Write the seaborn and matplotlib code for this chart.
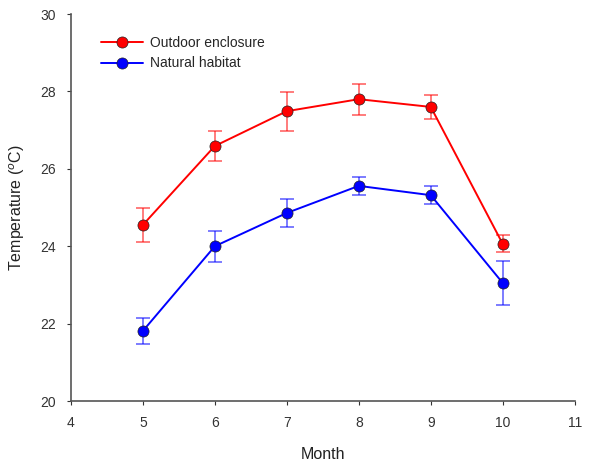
import pandas as pd
import seaborn as sns
import matplotlib.pyplot as plt

months = [5, 6, 7, 8, 9, 10]
outdoor = [24.55, 26.59, 27.49, 27.80, 27.60, 24.06]
outdoor_err = [0.44, 0.39, 0.50, 0.40, 0.30, 0.22]
natural = [21.81, 24.00, 24.86, 25.56, 25.32, 23.05]
natural_err = [0.34, 0.40, 0.36, 0.24, 0.24, 0.58]

series = ["Outdoor enclosure", "Natural habitat"]
colors = {"Outdoor enclosure": "#ff0000", "Natural habitat": "#0000ff"}

df = pd.DataFrame({
    "Month": months * 2,
    "Temp": outdoor + natural,
    "Err": outdoor_err + natural_err,
    "Site": [series[0]] * 6 + [series[1]] * 6,
})

sns.set_style("ticks")
plt.rcParams["font.family"] = ["Liberation Sans", "DejaVu Sans"]

fig = plt.figure(figsize=(6.16, 4.68), dpi=100)
ax = fig.add_axes([0.115, 0.143, 0.818, 0.827])

# error bars first, so markers sit on top
for s in series:
    sub = df[df["Site"] == s]
    ax.errorbar(sub["Month"], sub["Temp"], yerr=sub["Err"], fmt="none",
                ecolor=colors[s], alpha=0.6, elinewidth=1.2, capsize=5,
                capthick=1.2, zorder=2)

sns.lineplot(data=df, x="Month", y="Temp", hue="Site", palette=colors,
             marker="o", markersize=8, markeredgecolor="#222222",
             markeredgewidth=0.5, linewidth=1.4, ax=ax, zorder=3)

ax.set_xlim(4, 11)
ax.set_ylim(20, 30)
ax.set_xticks(range(4, 12))
ax.set_yticks(range(20, 31, 2))
ax.set_xlabel("Month", fontsize=11.5, color="#222222", labelpad=12)
ax.set_ylabel("Temperature ($^{o}$C)", fontsize=11.5, color="#222222", labelpad=9)
ax.tick_params(labelsize=10, colors="#333333", length=3, width=0.8, pad=8)
for sp in ["left", "bottom"]:
    ax.spines[sp].set_color("#555555")
    ax.spines[sp].set_linewidth(1.2)
sns.despine(ax=ax)

leg = ax.legend(title=None, frameon=False, loc="upper left",
                bbox_to_anchor=(0.035, 0.975), fontsize=10, handlelength=3,
                labelspacing=0.45, handletextpad=0.5)

fig.savefig("out.png", dpi=100)
